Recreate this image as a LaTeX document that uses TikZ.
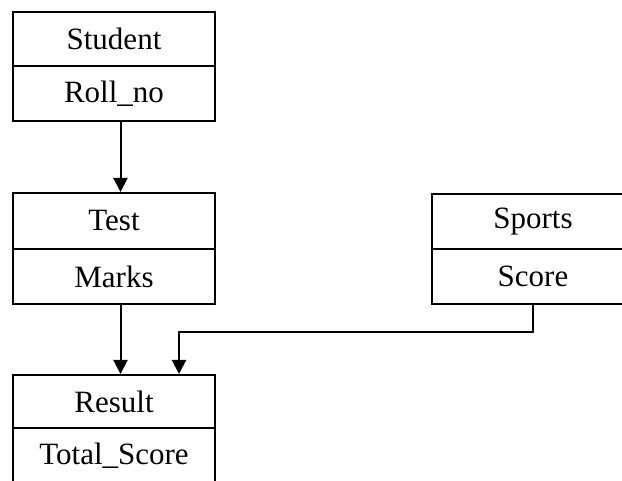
\documentclass[tikz,border=0pt]{standalone}
\usepackage{fontspec}
\setmainfont{Liberation Serif}
\usetikzlibrary{arrows.meta}
\begin{document}
\begin{tikzpicture}[x=1pt,y=-1pt,
 cell/.style={draw,line width=2pt,minimum width=202pt,minimum height=55pt,inner sep=0pt,font=\fontsize{31}{37}\selectfont},
 conn/.style={line width=2pt,-{Triangle[length=14pt,width=14pt]}}]
\useasboundingbox (0,0) rectangle (622,481);
\clip (0,0) rectangle (622,481);
\node[cell,minimum height=54pt] (student) at (114,39) {Student};
\node[cell] (roll) at (114,93.5) {Roll\_no};
\node[cell,minimum height=56pt] (test) at (114,221) {Test};
\node[cell] (marks) at (114,276.5) {Marks};
\node[cell,minimum height=53pt] (result) at (114,401.5) {Result};
\node[cell] (total) at (114,455.5) {Total\_Score};
\node[cell] (sports) at (533,221.5) {Sports};
\node[cell] (score) at (533,276.5) {Score};
\coordinate (bend) at (179,332);
\draw[conn] ([xshift=6.5pt]roll.south) -- ([xshift=6.5pt]test.north);
\draw[conn] ([xshift=6.5pt]marks.south) -- ([xshift=6.5pt]result.north);
\draw[conn] (score.south) |- (bend) -- (bend |- result.north);
\end{tikzpicture}
\end{document}
